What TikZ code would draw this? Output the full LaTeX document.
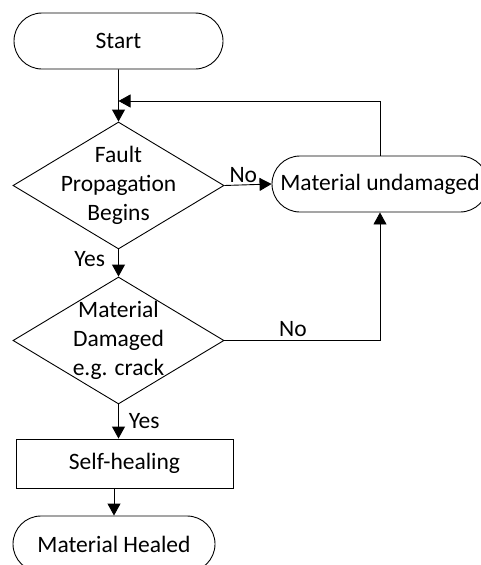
\documentclass[tikz,border=0pt]{standalone}
\usepackage{fontspec}
\setmainfont{Carlito}
\usetikzlibrary{shapes.geometric,shapes.misc,arrows.meta}

\begin{document}
\begin{tikzpicture}[x=1pt,y=-1pt,line width=0.9pt,
  font=\fontsize{23.5}{29}\selectfont,
  term/.style={draw,rounded rectangle,minimum height=56pt,inner sep=0pt},
  decision/.style={draw,diamond,minimum width=211pt,minimum height=127pt,inner sep=0pt},
  process/.style={draw,rectangle,minimum width=217pt,minimum height=49pt,inner sep=0pt},
  arr/.style={-{Triangle[width=13pt,length=12pt]}}]
\useasboundingbox (0,0) rectangle (480,565);
% boxes
\node[term,minimum width=209pt] (start) at (118.5,41) {Start};
\node[decision] (prop) at (118.5,185.5) {};
\node[align=center] (prop-txt) at (prop) {Fault\\Propagation\\Begins};
\node[term,minimum width=216pt] (undam) at (380,184) {Material undamaged};
\node[decision] (dmg) at (118.5,340.5) {};
\node[align=center] (dmg-txt) at (dmg) {Material\\Damaged\\e.g. crack};
\node[process] (heal) at (124.5,463.5) {Self-healing};
\node[term,minimum width=202pt] (healed) at (114,544) {Material Healed};
\coordinate (join) at (118.5,101);
% connectors
\draw[arr] (start) -- (prop.north);
\draw[arr] (undam.north) |- (join);
\draw[arr] (prop.east) -- node[above,inner sep=2pt,pos=0.4] (no1) {No} (undam.west);
\draw[arr] (prop.south) -- node[left,inner sep=13pt,pos=0.35] (yes1) {Yes} (dmg.north);
\draw[arr] (dmg.east) -| node[above,inner sep=3pt,pos=0.22] (no2) {No} (undam.south);
\draw[arr] (dmg.south) -- node[right,inner sep=10pt] (yes2) {Yes} (dmg.south |- heal.north);
\draw[arr] (heal.south -| healed.north) -- (healed.north);
\end{tikzpicture}
\end{document}
